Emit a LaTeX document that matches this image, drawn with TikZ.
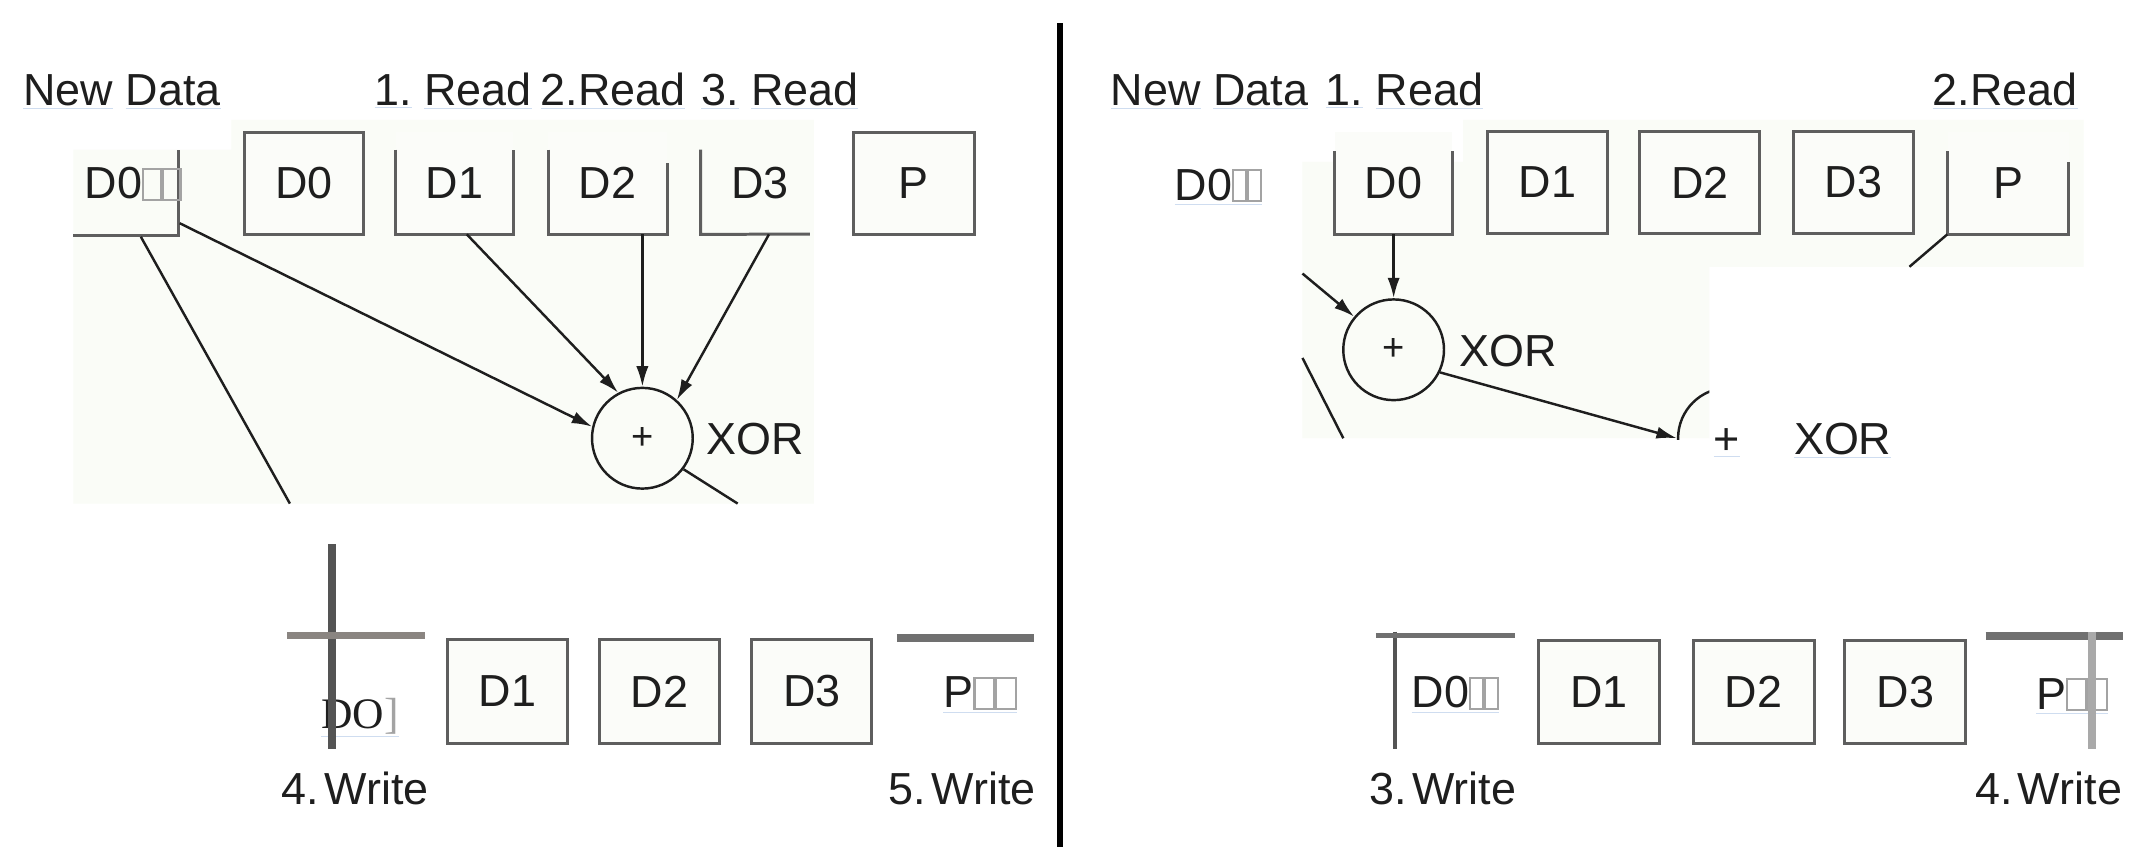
\documentclass[tikz,border=0pt]{standalone}
\usepackage{fontspec}
\setmainfont{Liberation Sans}
\newfontfamily\timesf{Liberation Serif}
\usetikzlibrary{arrows.meta}
\definecolor{bgpanel}{HTML}{FAFCF7}
\definecolor{boxfill}{HTML}{FBFCF9}
\definecolor{boxline}{HTML}{5E5E5E}
\definecolor{ink}{HTML}{1E1E1E}
\definecolor{ulblue}{HTML}{CFDDF0}
\definecolor{tofug}{HTML}{A3A3A3}
\definecolor{barwarm}{HTML}{8A8581}
\definecolor{bardark}{HTML}{545454}
\definecolor{barmid}{HTML}{707070}
\definecolor{barlight}{HTML}{A9A9A9}
\newcommand{\bigf}{\fontsize{33pt}{38pt}\selectfont}
\newcommand{\tofu}[1]{{\color{tofug}\fboxsep=0pt\fboxrule=1.6pt\fbox{\rule{0pt}{21pt}\hspace{#1}}}}
\newcommand{\uw}[1]{\textcolor{ulblue}{$\underline{\hbox{\textcolor{ink}{#1}}}$}}
\begin{document}
\begin{tikzpicture}[x=1pt,y=-1pt,
  lbl/.style={font=\bigf, text=ink, inner sep=0pt, anchor=base west},
  boxlbl/.style={font=\bigf, text=ink, inner sep=0pt, minimum height=75pt},
  fullbox/.style={boxlbl, draw=boxline, line width=2.2pt, fill=boxfill},
  openbox/.style={boxlbl, fill=boxfill},
  edgeln/.style={draw=boxline, line width=2.2pt},
  conn/.style={draw=ink, line width=1.8pt},
  arr/.style={conn, -{Latex[length=15pt,width=9pt]}},
  xorc/.style={circle, draw=ink, line width=1.8pt, minimum size=74pt, inner sep=0pt,
               font=\fontsize{28pt}{30pt}\selectfont, text=ink}]
\useasboundingbox (0,0) rectangle (1568,622);
\fill[white] (0,0) rectangle (1568,622);

% ---------- background panels ----------
\fill[bgpanel] (54,110) -- (170,110) -- (170,88) -- (598,88) -- (598,370) -- (54,370) -- cycle;
\fill[bgpanel] (1075,88) -- (1531,88) -- (1531,196) -- (1256,196) -- (1256,322)
  -- (957,322) -- (957,119) -- (1075,119) -- cycle;

% ---------- divider ----------
\draw[line width=4pt, black] (779,17) -- (779,622);

% ================= LEFT PANEL =================
\node[lbl] (tNewL) at (17,77.5) {\uw{New} \uw{Data}};
\node[lbl] (tR1L) at (275,77.5) {\uw{1.} \uw{Read}};
\node[lbl] (tR2L) at (397,77.5) {\uw{2.Read}};
\node[lbl] (tR3L) at (515,77.5) {\uw{3.} \uw{Read}};

% top row boxes
\draw[edgeln] (54,173) -- (131,173) -- (131,110);
\node[lbl] (LN) at (62,146) {D0\tofu{11.3pt}\tofu{11.3pt}};
\node[fullbox, minimum width=87pt] (L0) at (223.5,134.5) {D0};
\node[openbox, minimum width=86pt] (L1) at (334,134.5) {D1};
\draw[edgeln] (L1.south west |- 0,110) -- (L1.south west) -- (L1.south east) -- (L1.south east |- 0,110);
\node[openbox, minimum width=87pt] (L2) at (446.5,134.5) {D2};
\draw[edgeln] (L2.south west |- 0,110) -- (L2.south west) -- (L2.south east) -- (L2.south east |- 0,120);
\node[boxlbl, minimum width=87pt] (L3) at (558.5,134.5) {D3};
\draw[edgeln] (L3.south west |- 0,110) -- (L3.south west) -- (595,172);
\node[fullbox, minimum width=89pt] (LP) at (671.5,134.5) {P};

% xor
\node[xorc] (XL) at (472,322) {+};
\node[lbl] (XLt) at (519,334) {XOR};

% connectors
\coordinate (LNd) at (103.5,174);
\coordinate (LNdEnd) at (213,370);
\draw[conn] (LNd) -- (LNdEnd);
\coordinate (LNr) at (132,164);
\draw[arr] (LNr) -- (XL.167);
\draw[arr] ([xshift=9pt]L1.south) -- (XL.118);
\draw[arr] (L2.south -| XL.north) -- (XL.north);
\draw[arr] ([xshift=6.5pt]L3.south) -- (XL.48);
\coordinate (XLout) at (542,370);
\draw[conn] (XL.-37) -- (XLout);

% bottom row
\node[lbl, font=\timesf\fontsize{32pt}{36pt}\selectfont] (BLD) at (236,535) {\uw{DO\textcolor{tofug}{]}}};
\draw[line width=6pt, bardark] (244,400) -- (244,550);
\draw[line width=5pt, barwarm] (211,467) -- (312,467);
\node[fullbox, minimum width=88pt, minimum height=76pt] (B1) at (373,508) {D1};
\node[fullbox, minimum width=88pt, minimum height=76pt] (B2) at (484.5,508) {D2};
\node[fullbox, minimum width=88pt, minimum height=76pt] (B3) at (596.5,508) {D3};
\draw[line width=6pt, barmid] (659,469) -- (760,469);
\node[lbl] (BLP) at (693,520) {\uw{P\tofu{12.8pt}\tofu{12.8pt}}};
\node[lbl] (W4L) at (207,591) {4.\kern4pt Write};
\node[lbl] (W5L) at (653,591) {5.\kern4pt Write};

% ================= RIGHT PANEL =================
\node[lbl] (tNewR) at (816,77.5) {\uw{New} \uw{Data}};
\node[lbl] (tR1R) at (974,77.5) {\uw{1.} \uw{Read}};
\node[lbl] (tR2R) at (1420,77.5) {\uw{2.Read}};

\node[lbl] (RN) at (863,147) {\uw{D0\tofu{7.8pt}\tofu{7.8pt}}};
\node[openbox, minimum width=86pt] (R0) at (1024,134.5) {D0};
\draw[edgeln] (R0.south west |- 0,111) -- (R0.south west) -- (R0.south east) -- (R0.south east |- 0,111);
\node[fullbox, minimum width=88pt] (R1) at (1137,134) {D1};
\node[fullbox, minimum width=88pt] (R2) at (1249,134) {D2};
\node[fullbox, minimum width=88pt] (R3) at (1362,134) {D3};
\node[openbox, minimum width=89pt] (RP) at (1475.5,134.5) {P};
\draw[edgeln] (RP.south west |- 0,111) -- (RP.south west) -- (RP.south east) -- (RP.south east |- 0,119);

\node[xorc] (XR) at (1024,257) {+};
\node[lbl] (XRt) at (1072,269) {XOR};
\begin{scope}
  \clip (1200,270) rectangle (1256,322.8);
  \node[xorc] (XR2) at (1270,322) {};
\end{scope}
\node[lbl] (XR2p) at (1259,334) {\uw{+}};
\node[lbl] (XR2t) at (1318,334) {\uw{XOR}};

\draw[arr] (R0.south) -- (XR.north);
\coordinate (RinA) at (957,201);
\draw[arr] (RinA) -- (XR.140);
\coordinate (RinB1) at (957,263);
\coordinate (RinB2) at (987,322);
\draw[conn] (RinB1) -- (RinB2);
\draw[arr] (XR.-26) -- (XR2.west);
\coordinate (RPl) at (1403,196);
\draw[conn] (RP.south west) -- (RPl);

% bottom row
\node[lbl] (BRD) at (1037,520) {\uw{D0\tofu{7.8pt}\tofu{7.8pt}}};
\draw[line width=3.5pt, bardark] (1025,464) -- (1025,550);
\draw[line width=4pt, barmid] (1011,467) -- (1113,467);
\node[fullbox, minimum width=89pt, minimum height=76pt] (C1) at (1175,508.5) {D1};
\node[fullbox, minimum width=89pt, minimum height=76pt] (C2) at (1288.5,508.5) {D2};
\node[fullbox, minimum width=89pt, minimum height=76pt] (C3) at (1400,508.5) {D3};
\node[lbl] (BRP) at (1496,521) {\uw{P\tofu{12.3pt}\tofu{12.3pt}}};
\draw[line width=6pt, barmid] (1459,467) -- (1560,467);
\draw[line width=6pt, barlight] (1537,464) -- (1537,550);
\node[lbl] (W3R) at (1006,591) {3.\kern4pt Write};
\node[lbl] (W4R) at (1451,591) {4.\kern4pt Write};
\end{tikzpicture}
\end{document}
